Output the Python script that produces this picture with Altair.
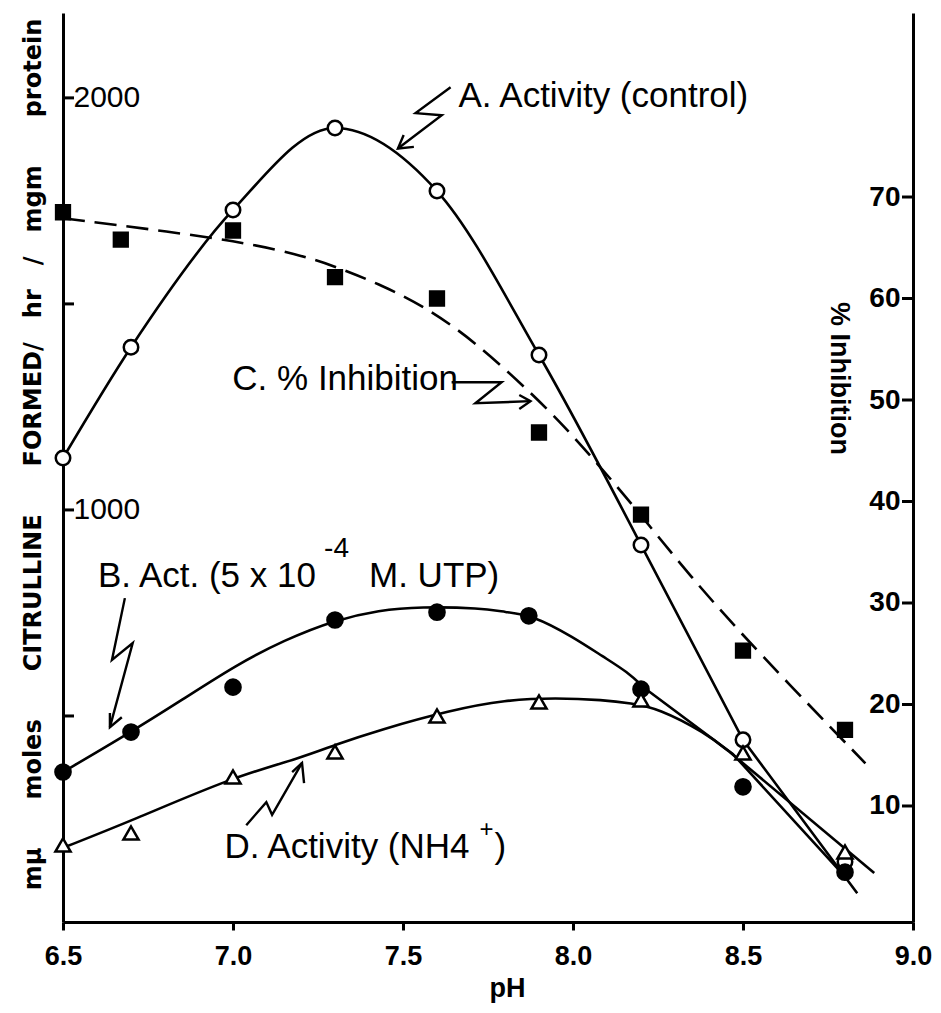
import altair as alt
import pandas as pd

FONT = "Liberation Sans"

# ---- measured points ----
ph_A = [6.5, 6.7, 7.0, 7.3, 7.6, 7.9, 8.2, 8.5, 8.8]
act_A = [1126, 1395, 1728, 1927, 1774, 1376, 915, 442, 146]

ph_B = [6.5, 6.7, 7.0, 7.3, 7.6, 7.87, 8.2, 8.5, 8.8]
act_B = [364, 461, 570, 733, 752, 743, 565, 328, 121]

ph_C = [6.5, 6.67, 7.0, 7.3, 7.6, 7.9, 8.2, 8.5, 8.8]
inh_C = [68.5, 65.8, 66.7, 62.1, 60.0, 46.8, 38.7, 25.3, 17.5]

ph_D = [6.5, 6.7, 7.0, 7.3, 7.6, 7.9, 8.2, 8.5, 8.8]
act_D = [187, 216, 352, 413, 500, 534, 539, 410, 170]

# ---- hand-drawn fitted curves ----
curveA_ph = [6.5, 6.7, 7.0, 7.3, 7.6, 7.9, 8.2]
curveA_v = [1126, 1395, 1728, 1927, 1774, 1376, 915]
tailA_ph = [8.2, 8.5, 8.836]
tailA_v = [915, 442, 70]

curveB_ph = [6.5, 6.7, 6.85, 7.01, 7.15, 7.3, 7.43, 7.55, 7.73, 7.80, 7.88, 8.0, 8.09, 8.16, 8.21]
curveB_v = [364, 461, 539, 624, 684, 733, 757, 765, 762, 752, 745, 692, 643, 607, 568]
tailB_ph = [8.21, 8.47, 8.8]
tailB_v = [568, 408, 110]

curveC_ph = [6.5, 7.0, 7.195, 7.29, 7.44, 7.58, 7.72, 7.88, 7.98, 8.07, 8.17, 8.35, 8.54, 8.86]
curveC_v = [67.9, 65.8, 64.3, 63.3, 61.3, 58.9, 55.5, 50.6, 47.2, 43.8, 39.9, 32.4, 25.3, 14.2]

curveD_ph = [6.5, 6.7, 7.0, 7.2, 7.3, 7.43, 7.64, 7.80, 7.95, 8.09, 8.17, 8.25, 8.39, 8.46]
curveD_v = [180, 245, 352, 398, 430, 466, 514, 539, 544, 539, 531, 519, 459, 413]
tailD_ph = [8.46, 8.886]
tailD_v = [413, 119]

# ---- axes ----
x_ticks = [6.5, 7.0, 7.5, 8.0, 8.5, 9.0]
left_labels = [1000, 2000]
left_ticks = [500, 1000, 1500, 2000]
right_ticks = [10, 20, 30, 40, 50, 60, 70]
x_domain = [6.5, 9.0]
left_domain = [0, 2206]
right_domain = [-1.43, 88.13]

# ---- annotations (left-axis units) ----
ann_text = ["A. Activity (control)", "C. % Inhibition", "B. Act. (5 x 10", "-4",
            "M. UTP)", "D. Activity (NH4", "+", ")"]
ann_ph = [7.663, 6.998, 6.603, 7.268, 7.400, 6.975, 7.725, 7.769]
ann_v = [1978, 1291, 813, 886, 813, 155, 206, 155]
ann_fs = [35, 35, 35, 28, 35, 35, 24, 35]

arrow_id = ["A"] * 4 + ["Ah"] * 3 + ["C"] * 4 + ["Ch"] * 3 + ["B"] * 4 + ["Bh"] * 3 + ["D"] * 4 + ["Dh"] * 3
arrow_ph = [7.640, 7.537, 7.614, 7.485, 7.502, 7.485, 7.532,
            7.643, 7.790, 7.713, 7.875, 7.842, 7.875, 7.842,
            6.682, 6.644, 6.705, 6.638, 6.638, 6.638, 6.673,
            7.039, 7.098, 7.115, 7.203, 7.174, 7.203, 7.209]
arrow_v = [2026, 1963, 1958, 1877, 1910, 1877, 1881,
           1310, 1310, 1259, 1264, 1279, 1264, 1245,
           786, 636, 677, 473, 507, 473, 497,
           235, 291, 260, 386, 364, 386, 337]

W, H = 850, 909

x_axis = alt.Axis(values=x_ticks, format=".1f", labelFontSize=27, labelFont=FONT,
                  labelFontWeight="bold", labelColor="black", labelPadding=13,
                  labelFlush=False, labelOverlap=False, tickSize=8, tickWidth=3,
                  tickColor="black", domainWidth=3, domainColor="black", grid=False,
                  title="pH", titleFont=FONT, titleFontSize=27, titleFontWeight="bold",
                  titleColor="black", titleX=444, titleY=66, titleBaseline="middle",
                  titleAlign="center")

left_title = ("mμ\u2003\u2003moles\u2003\u2003CITRULLINE\u2003\u2003FORMED/\u2003hr"
              "\u2003/\u2003mgm\u2003\u2003protein")
left_axis = alt.Axis(orient="left", values=left_labels, format="d", labelFontSize=30,
                     labelFont=FONT, labelColor="black", labelAlign="left",
                     labelPadding=-10, tickSize=0, domainWidth=3, domainColor="black",
                     grid=False, title=left_title, titleFont="DejaVu Sans", titleFontSize=24,
                     titleFontWeight="bold", titleColor="black", titleAngle=270,
                     titleX=-30, titleY=441, titleBaseline="middle", titleAlign="center")

right_axis = alt.Axis(orient="right", values=right_ticks, format="d", labelFontSize=28,
                      labelFont=FONT, labelFontWeight="bold", labelColor="black",
                      labelAlign="right", labelPadding=-13, tickSize=0, domainWidth=3,
                      domainColor="black", grid=False, title="% Inhibition",
                      titleFont=FONT, titleFontSize=27, titleFontWeight="bold",
                      titleColor="black", titleAngle=90, titleX=-75, titleY=365,
                      titleBaseline="middle", titleAlign="center")


def X():
    return alt.X("pH:Q", scale=alt.Scale(domain=x_domain, nice=False, zero=False), axis=x_axis)


def YL():
    return alt.Y("v:Q", scale=alt.Scale(domain=left_domain, nice=False, zero=False), axis=left_axis)


def YR():
    return alt.Y("v:Q", scale=alt.Scale(domain=right_domain, nice=False, zero=False), axis=right_axis)


def df(xs, ys):
    return pd.DataFrame({"pH": xs, "v": ys})


LW = 2.6


def line(xs, ys, y, interp="linear", dash=None):
    kw = dict(color="black", strokeWidth=LW, interpolate=interp)
    if dash:
        kw["strokeDash"] = dash
    return alt.Chart(df(xs, ys)).mark_line(**kw).encode(x=X(), y=y())


def pts(xs, ys, y, shape, fill, size):
    return alt.Chart(df(xs, ys)).mark_point(shape=shape, filled=True, fill=fill, stroke="black",
                                            strokeWidth=2.5, size=size, opacity=1).encode(x=X(), y=y())


ann_df = pd.DataFrame({"pH": ann_ph, "v": ann_v, "label": ann_text, "fs": ann_fs})
annotations = alt.Chart(ann_df).mark_text(align="left", baseline="alphabetic", font=FONT,
                                          color="black").encode(
    x=X(), y=YL(), text="label:N", size=alt.Size("fs:Q", scale=None, legend=None))

arr_df = pd.DataFrame({"pH": arrow_ph, "v": arrow_v, "id": arrow_id,
                       "i": list(range(len(arrow_ph)))})
arrows = alt.Chart(arr_df).mark_line(color="black", strokeWidth=2.4).encode(
    x=X(), y=YL(), detail="id:N", order="i:Q")

lt_df = pd.DataFrame({"v": left_ticks})
left_tick_marks = alt.Chart(lt_df).mark_rule(color="black", strokeWidth=3).encode(
    y=YL(), x=alt.value(0), x2=alt.value(11))

rt_df = pd.DataFrame({"v": right_ticks})
right_tick_marks = alt.Chart(rt_df).mark_rule(color="black", strokeWidth=3).encode(
    y=YR(), x=alt.value(W - 11), x2=alt.value(W))

left = alt.layer(
    line(curveA_ph, curveA_v, YL, "monotone"),
    line(tailA_ph, tailA_v, YL),
    line(curveB_ph, curveB_v, YL, "basis"),
    line(tailB_ph, tailB_v, YL),
    line(curveD_ph, curveD_v, YL, "basis"),
    line(tailD_ph, tailD_v, YL),
    arrows,
    annotations,
    left_tick_marks,
    pts(ph_A, act_A, YL, "circle", "white", 210),
    pts(ph_B, act_B, YL, "circle", "black", 230),
    pts(ph_D, act_D, YL, "triangle-up", "white", 230),
)

right = alt.layer(
    line(curveC_ph, curveC_v, YR, "basis", dash=[22, 10]),
    right_tick_marks,
    pts(ph_C, inh_C, YR, "square", "black", 190),
)

chart = alt.layer(left, right).resolve_scale(y="independent").properties(
    width=W, height=H,
    padding={"left": 55, "top": 5, "right": 20, "bottom": 83},
    autosize=alt.AutoSizeParams(type="none"),
    background="white",
).configure_view(stroke=None)

chart.save("out.html", embed_options={"renderer": "svg", "actions": False})
